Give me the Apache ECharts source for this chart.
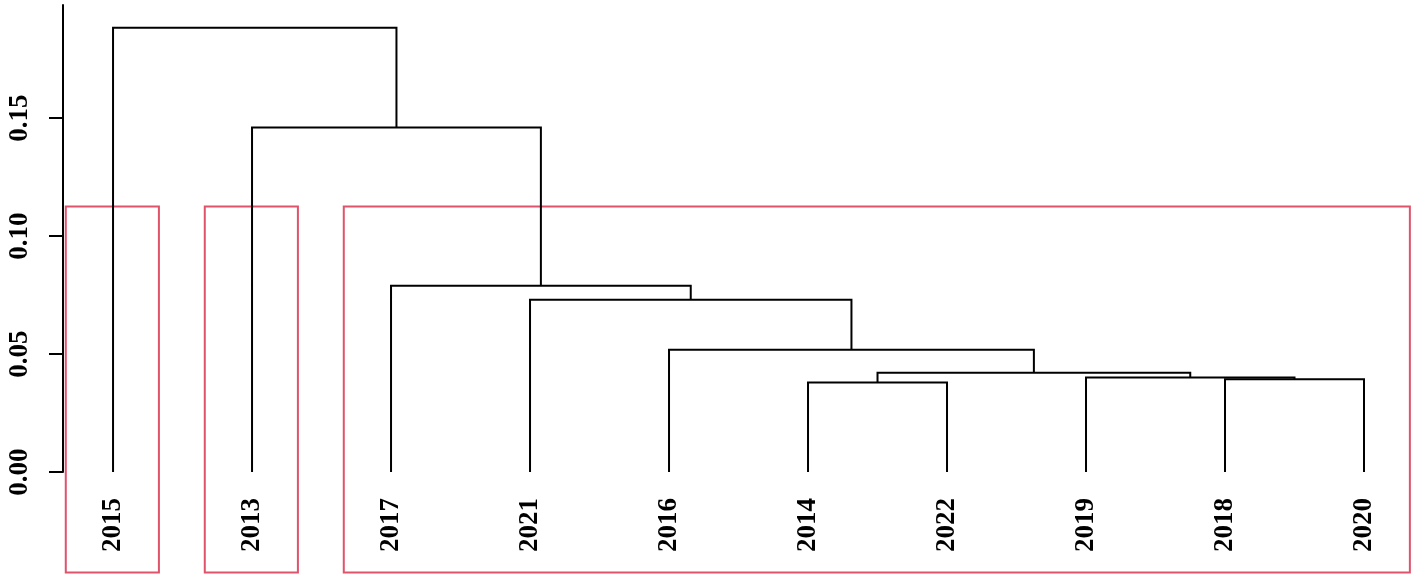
<!DOCTYPE html>
<html>
<head>
<meta charset="utf-8">
<script src="https://cdn.jsdelivr.net/npm/echarts@6/dist/echarts.min.js"></script>
<style>
  html, body { margin: 0; padding: 0; background: #fff; }
  #dendro { width: 1418px; height: 579px; }
</style>
</head>
<body>
<div id="dendro"></div>
<script>
// leaf order as plotted
const leaves = ['2015', '2013', '2017', '2021', '2016', '2014', '2022', '2019', '2018', '2020']
// hclust style merge table: negative = leaf (1-based in leaves), positive = earlier merge step
const merges = [
  [-6, -7],
  [-9, -10],
  [-8, 2],
  [1, 3],
  [-5, 4],
  [-4, 5],
  [-3, 6],
  [-2, 7],
  [-1, 8]
]
const heights = [0.0379, 0.0393, 0.0401, 0.0421, 0.0518, 0.0730, 0.0790, 0.1461, 0.1884]
const yTicks = [0, 0.05, 0.1, 0.15]
// clusters cut at k = 3, as leaf index ranges
const clusters = [[0, 0], [1, 1], [2, 9]]
const plotBottom = -0.0426

const FONT = 'Liberation Serif'

// node positions
let nodeX = []
let segs = []
merges.forEach((m, i) => {
  const ch = m.map(c => (c < 0 ? { x: -c - 1, h: 0 } : { x: nodeX[c - 1], h: heights[c - 1] }))
  nodeX[i] = (ch[0].x + ch[1].x) / 2
  segs.push([ch[0].x, ch[0].h, ch[1].x, ch[1].h, heights[i]])
})

const k = clusters.length
const hs = heights.slice().reverse()
const rectTop = (hs[k - 2] + hs[k - 1]) / 2
const rects = clusters.map(c => [c[0] - 0.34, c[1] + 0.33, rectTop, plotBottom])

const chart = echarts.init(document.getElementById('dendro'))

const option = {
  animation: false,
  grid: {
    left: 63,
    right: 54,
    top: 5,
    bottom: 107
  },
  xAxis: {
    type: 'value',
    min: -0.36,
    max: leaves.length - 1,
    splitLine: { show: false },
    axisLine: { show: false, onZero: false },
    axisTick: { show: false },
    axisLabel: {
      customValues: leaves.map((l, i) => i),
      formatter: v => leaves[Math.round(v)],
      rotate: 90,
      margin: 26,
      fontFamily: FONT,
      fontWeight: 'bold',
      fontSize: 27,
      color: '#000'
    }
  },
  yAxis: {
    type: 'value',
    min: 0,
    max: 0.198,
    splitLine: { show: false },
    axisLine: { show: true, onZero: false, lineStyle: { color: '#000', width: 2 } },
    axisTick: {
      show: true,
      length: 14,
      customValues: yTicks,
      lineStyle: { color: '#000', width: 2 }
    },
    axisLabel: {
      customValues: yTicks,
      formatter: v => v.toFixed(2),
      rotate: 90,
      margin: 29,
      fontFamily: FONT,
      fontWeight: 'bold',
      fontSize: 27,
      color: '#000'
    }
  },
  series: [
    {
      type: 'custom',
      clip: false,
      data: rects,
      renderItem(params, api) {
        const p0 = api.coord([api.value(0), api.value(2)])
        const p1 = api.coord([api.value(1), api.value(3)])
        return {
          type: 'rect',
          shape: { x: p0[0], y: p0[1], width: p1[0] - p0[0], height: p1[1] - p0[1] },
          style: { fill: 'none', stroke: '#DF536B', lineWidth: 2 }
        }
      }
    },
    {
      type: 'custom',
      clip: false,
      data: segs,
      renderItem(params, api) {
        const a = api.coord([api.value(0), api.value(1)])
        const b = api.coord([api.value(0), api.value(4)])
        const c = api.coord([api.value(2), api.value(4)])
        const d = api.coord([api.value(2), api.value(3)])
        return {
          type: 'polyline',
          shape: { points: [a, b, c, d] },
          style: { fill: 'none', stroke: '#000', lineWidth: 2 }
        }
      }
    }
  ]
}

chart.setOption(option)
</script>
</body>
</html>
